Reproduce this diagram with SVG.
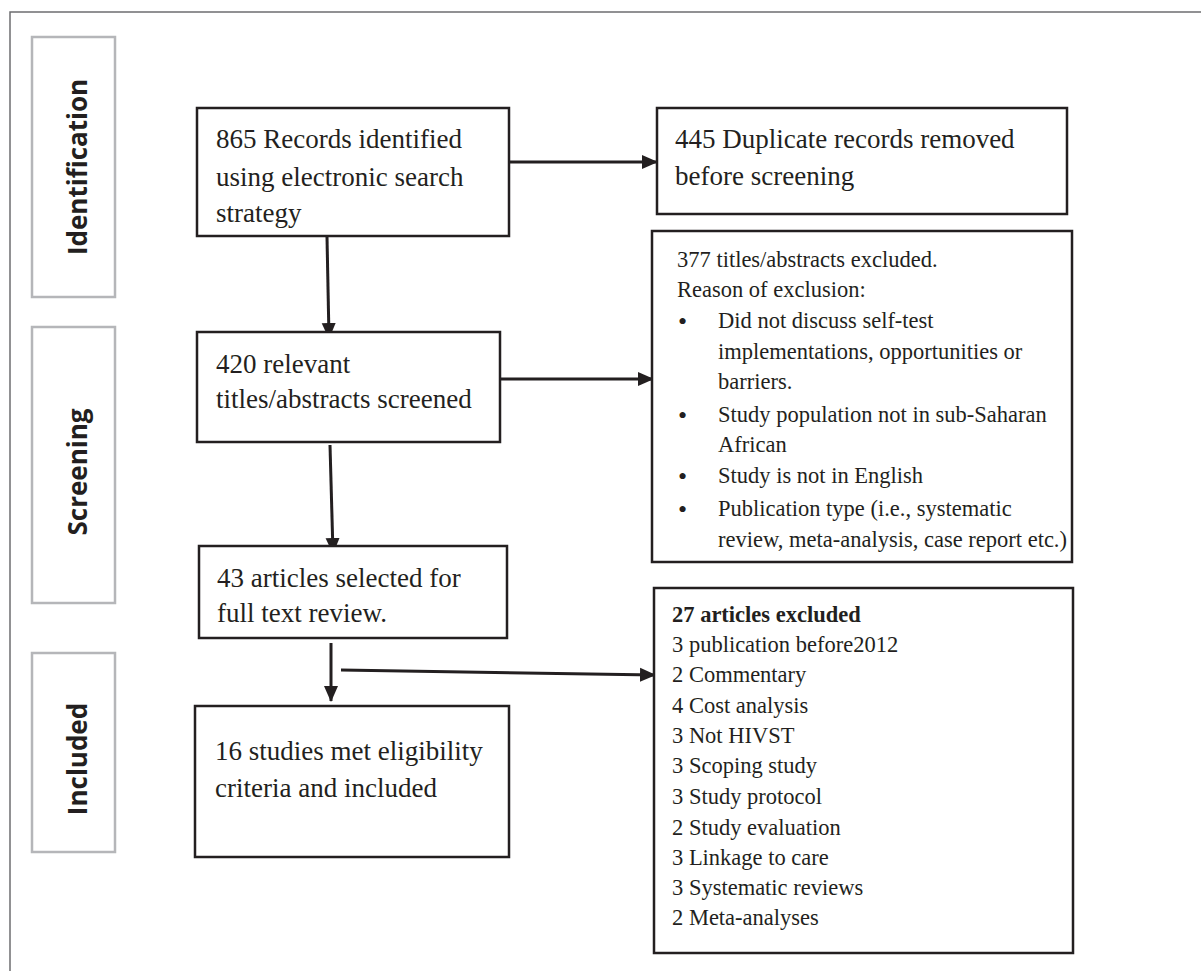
<svg xmlns="http://www.w3.org/2000/svg" width="1201" height="971" viewBox="0 0 1201 971">
<style>
.frame{fill:none;stroke:#6d6e70;stroke-width:1.5}
.side{fill:#fff;stroke:#b5b6b9;stroke-width:2.5}
.box{fill:#fff;stroke:#231f20;stroke-width:2.5}
.lab{font-family:"Open Sans","DejaVu Sans",sans-serif;font-weight:bold;font-size:26px;fill:#231f20;text-anchor:middle}
.t{font-family:"Liberation Serif","Times New Roman",serif;font-size:27px;fill:#231f20}
.s{font-family:"Liberation Serif","Times New Roman",serif;font-size:22.5px;fill:#231f20}
.b{font-weight:bold}
.bu{font-size:26px}
.con{fill:none;stroke:#231f20;stroke-width:3}
</style>
<defs>
<marker id="ah" markerUnits="userSpaceOnUse" markerWidth="16" markerHeight="16" viewBox="0 0 16 16" refX="15" refY="8" orient="auto">
<path d="M0,1 L16,8 L0,15 Z" fill="#231f20"/>
</marker>
</defs>
<rect width="1201" height="971" fill="#fff"/>
<path class="frame" d="M10,980 L10,12 L1210,12"/>

<g id="stage-identification">
<rect class="side" x="32" y="37" width="83" height="260"/>
<text class="lab" transform="translate(87,167) rotate(-90)">Identification</text>
</g>
<g id="stage-screening">
<rect class="side" x="32" y="327" width="83" height="276"/>
<text class="lab" transform="translate(87,472) rotate(-90)">Screening</text>
</g>
<g id="stage-included">
<rect class="side" x="32" y="653" width="83" height="199"/>
<text class="lab" transform="translate(87,759) rotate(-90)">Included</text>
</g>

<g id="connectors">
<line class="con" x1="498" y1="162" x2="657" y2="162" marker-end="url(#ah)"/>
<line class="con" x1="327" y1="237" x2="329" y2="338" marker-end="url(#ah)"/>
<line class="con" x1="488" y1="379" x2="653" y2="379" marker-end="url(#ah)"/>
<line class="con" x1="330" y1="445" x2="333" y2="553" marker-end="url(#ah)"/>
<line class="con" x1="331" y1="643" x2="331" y2="701" marker-end="url(#ah)"/>
<line class="con" x1="341" y1="670" x2="655" y2="675" marker-end="url(#ah)"/>
</g>

<g id="n865">
<rect class="box" x="197" y="108" width="312" height="128"/>
<text class="t"><tspan x="216" y="148">865 Records identified</tspan><tspan x="216" y="186">using electronic search</tspan><tspan x="216" y="222">strategy</tspan></text>
</g>
<g id="n445">
<rect class="box" x="657" y="108" width="410" height="106"/>
<text class="t"><tspan x="675" y="148">445 Duplicate records removed</tspan><tspan x="675" y="185">before screening</tspan></text>
</g>
<g id="n420">
<rect class="box" x="197" y="332" width="303" height="110"/>
<text class="t"><tspan x="216" y="373">420 relevant</tspan><tspan x="216" y="408">titles/abstracts screened</tspan></text>
</g>
<g id="n377">
<rect class="box" x="652" y="231" width="420" height="331"/>
<text class="s"><tspan x="677" y="267">377 titles/abstracts excluded.</tspan><tspan x="677" y="297">Reason of exclusion:</tspan><tspan class="bu" x="678" y="330">•</tspan><tspan x="718" y="328">Did not discuss self-test</tspan><tspan x="718" y="359">implementations, opportunities or</tspan><tspan x="718" y="389">barriers.</tspan><tspan class="bu" x="678" y="424">•</tspan><tspan x="718" y="422">Study population not in sub-Saharan</tspan><tspan x="718" y="452">African</tspan><tspan class="bu" x="678" y="485">•</tspan><tspan x="718" y="483">Study is not in English</tspan><tspan class="bu" x="678" y="518">•</tspan><tspan x="718" y="516">Publication type (i.e., systematic</tspan><tspan x="718" y="547">review, meta-analysis, case report etc.)</tspan></text>
</g>
<g id="n43">
<rect class="box" x="199" y="546" width="308" height="92"/>
<text class="t"><tspan x="217" y="587">43 articles selected for</tspan><tspan x="217" y="622">full text review.</tspan></text>
</g>
<g id="n16">
<rect class="box" x="195" y="706" width="314" height="151"/>
<text class="t"><tspan x="215" y="760">16 studies met eligibility</tspan><tspan x="215" y="797">criteria and included</tspan></text>
</g>
<g id="n27">
<rect class="box" x="654" y="588" width="419" height="365"/>
<text class="s"><tspan class="b" x="672" y="622">27 articles excluded</tspan><tspan x="672" y="652">3 publication before2012</tspan><tspan x="672" y="682">2 Commentary</tspan><tspan x="672" y="713">4 Cost analysis</tspan><tspan x="672" y="743">3 Not HIVST</tspan><tspan x="672" y="773">3 Scoping study</tspan><tspan x="672" y="804">3 Study protocol</tspan><tspan x="672" y="835">2 Study evaluation</tspan><tspan x="672" y="865">3 Linkage to care</tspan><tspan x="672" y="895">3 Systematic reviews</tspan><tspan x="672" y="925">2 Meta-analyses</tspan></text>
</g>
</svg>
